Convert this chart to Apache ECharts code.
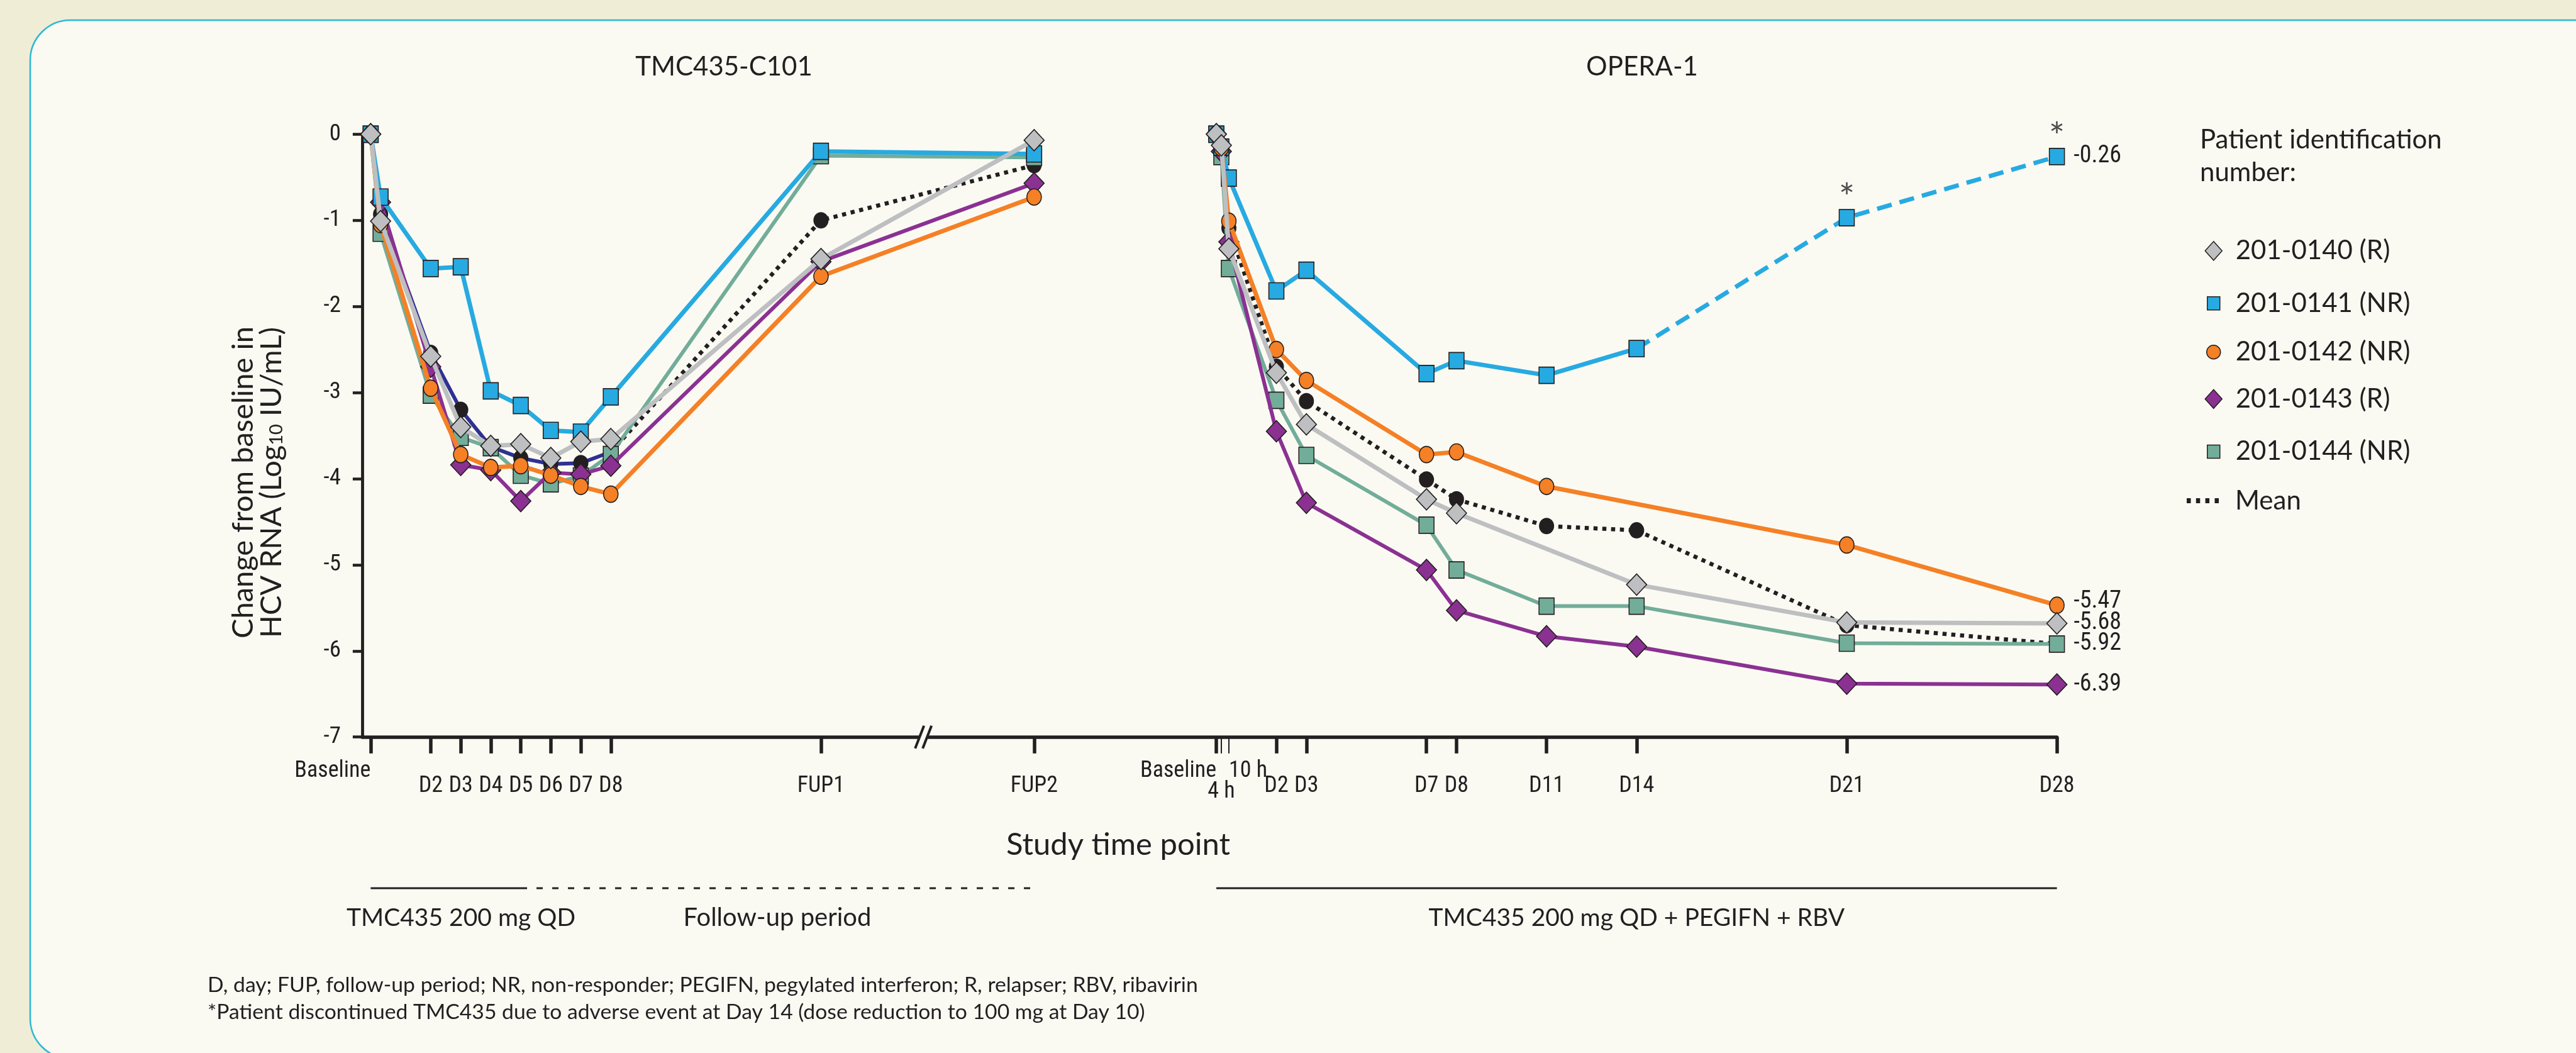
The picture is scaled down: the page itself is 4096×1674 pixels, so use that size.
<!DOCTYPE html>
<html>
<head>
<meta charset="utf-8">
<script src="https://cdn.jsdelivr.net/npm/echarts@6/dist/echarts.min.js"></script>
<style>
html,body{margin:0;padding:0;background:#f0edd6;}
#c{width:4096px;height:1674px;}
</style>
</head>
<body>
<div id="c"></div>
<script>
// ---------------- DATA ----------------
// TMC435-C101 (days; FUP1/FUP2 are plotted at nominal positions on the broken axis)
const c101Days = [0, 0.33, 2, 3, 4, 5, 6, 7, 8, 15, 22.1];
const c101TickDays = [0, 2, 3, 4, 5, 6, 7, 8, 15, 22.1];
const c101TickLabels = ['Baseline', 'D2', 'D3', 'D4', 'D5', 'D6', 'D7', 'D8', 'FUP1', 'FUP2'];
const c101_0140 = [0, -1.01, -2.58, -3.40, -3.62, -3.60, -3.76, -3.57, -3.54, -1.45, -0.07];
const c101_0141 = [0, -0.73, -1.56, -1.54, -2.98, -3.15, -3.44, -3.46, -3.05, -0.20, -0.23];
const c101_0142 = [0, -1.05, -2.95, -3.72, -3.87, -3.85, -3.96, -4.09, -4.18, -1.65, -0.73];
const c101_0143 = [0, -0.79, -2.70, -3.84, -3.90, -4.26, -3.93, -3.95, -3.85, -1.48, -0.57];
const c101_0144 = [0, -1.15, -3.03, -3.52, -3.64, -3.96, -4.06, -3.97, -3.72, -0.25, -0.27];
const c101Mean  = [0, -0.93, -2.54, -3.20, -3.63, -3.76, -3.83, -3.82, -3.69, -1.00, -0.36];
const c101DosingEndDay = 5;      // TMC435 200 mg QD until D5, then follow-up
const c101MeanSolidUntil = 8;    // mean drawn solid through D8, dotted afterwards
const c101BreakDay = 18.41;      // axis break between FUP1 and FUP2

// OPERA-1 (days)
const operaOffset = 28.17;       // OPERA-1 baseline position on the shared x axis
const operaDays = [0, 0.167, 0.417, 2, 3, 7, 8, 11, 14, 21, 28];
const operaTickDays = [0, 0.167, 0.417, 2, 3, 7, 8, 11, 14, 21, 28];
const operaTickLabels = ['Baseline', '4 h', '10 h', 'D2', 'D3', 'D7', 'D8', 'D11', 'D14', 'D21', 'D28'];
const opera_0140 = [0, -0.13, -1.33, -2.77, -3.37, -4.24, -4.40, null, -5.23, -5.67, -5.68];
const opera_0141 = [0, -0.15, -0.51, -1.82, -1.58, -2.78, -2.63, -2.80, -2.49, -0.97, -0.26];
const opera_0142 = [0, -0.16, -1.01, -2.50, -2.86, -3.72, -3.69, -4.09, null, -4.77, -5.47];
const opera_0143 = [0, -0.20, -1.25, -3.45, -4.28, -5.06, -5.53, -5.83, -5.95, -6.38, -6.39];
const opera_0144 = [0, -0.26, -1.56, -3.09, -3.73, -4.54, -5.06, -5.48, -5.48, -5.91, -5.92];
const operaMean  = [0, -0.18, -1.09, -2.70, -3.10, -4.01, -4.24, -4.55, -4.60, -5.70, -5.92];
const operaDiscontinuedFrom = 14;  // 201-0141 dashed after D14
const operaStarDays = [21, 28];    // asterisked points of 201-0141
const operaTreatEndDay = 28;

const yTicks = [0, -1, -2, -3, -4, -5, -6, -7];

const footnote1 = 'D, day; FUP, follow-up period; NR, non-responder; PEGIFN, pegylated interferon; R, relapser; RBV, ribavirin';
const footnote2 = '*Patient discontinued TMC435 due to adverse event at Day 14 (dose reduction to 100 mg at Day 10)';

// ---------------- STYLE ----------------
const INK = '#231f20';
const FONT = 'Lato, "Liberation Sans", sans-serif';
const PANEL = '#fafaf3';
const mctx = document.createElement('canvas').getContext('2d');

// pick the narrowest available condensed face for the tick labels
const NARROW = (function () {
  const cands = [
    {style: 'normal', family: '"Liberation Sans Narrow"'},
    {style: 'normal', family: '"DejaVu Sans Condensed"'},
    {style: 'normal', family: '"Roboto Condensed"'},
    {style: 'normal', family: '"Noto Sans Condensed"'},
    {style: 'condensed', family: '"Noto Sans"'},
    {style: 'condensed', family: '"DejaVu Sans"'},
    {style: 'condensed', family: 'Roboto'},
    {style: 'condensed', family: '"Liberation Sans"'},
    {style: 'normal', family: 'Lato'},
    {style: 'normal', family: '"Liberation Sans"'}
  ];
  let best = null;
  cands.forEach(c => {
    mctx.font = (c.style === 'normal' ? '' : c.style + ' ') + '36px ' + c.family;
    const w = mctx.measureText('Baseline D2 D3 FUP1 -5.47').width;
    if (!best || w < best.w - 0.5) best = {style: c.style, family: c.family, w: w};
  });
  return best;
})();
const NF = NARROW.family + ', "Liberation Sans", sans-serif';
const NS = NARROW.style;

// font size that makes a text span a given width (footnotes)
function fitSize(texts, targetW) {
  mctx.font = '36px ' + FONT;
  const w = texts.reduce((a, t) => a + mctx.measureText(t).width, 0) / texts.length;
  return Math.max(30, Math.min(40, 36 * targetW / w));
}
const FOOT_FS = fitSize([footnote1, footnote2], 1533);

const patients = [
  {name: '201-0140 (R)',  c101: c101_0140, opera: opera_0140, color: '#bdbfc1', symbol: 'diamond', size: [32, 34], lsize: [27, 30], width: 7, z: 7, labDist: 10},
  {name: '201-0141 (NR)', c101: c101_0141, opera: opera_0141, color: '#27aae1', symbol: 'rect',    size: [24, 26], lsize: [20, 21], width: 7, z: 5, labDist: 14},
  {name: '201-0142 (NR)', c101: c101_0142, opera: opera_0142, color: '#f58025', symbol: 'circle',  size: [23, 26], lsize: [22, 24], width: 7, z: 6, labDist: 14.5, labOffset: [0, -6]},
  {name: '201-0143 (R)',  c101: c101_0143, opera: opera_0143, color: '#8b3192', symbol: 'diamond', size: [32, 34], lsize: [27, 30], width: 6, z: 4, labDist: 10},
  {name: '201-0144 (NR)', c101: c101_0144, opera: opera_0144, color: '#72ad99', symbol: 'rect',    size: [24, 26], lsize: [20, 21], width: 6, z: 3, labDist: 14}
];

function pairs(days, vals, offset, from, to) {
  const out = [];
  days.forEach((d, i) => {
    const v = vals[i];
    if (v === null || v === undefined) return;
    if (from !== undefined && d < from) return;
    if (to !== undefined && d > to) return;
    out.push([offset + d, v]);
  });
  return out;
}

function withEndLabel(data, p) {
  const last = data.length - 1;
  return data.map((v, i) => i === last ? {
    value: v,
    label: {show: true, position: 'right', distance: p.labDist, offset: p.labOffset || [0, 0],
      formatter: (q) => q.value[1].toFixed(2), fontFamily: NF, fontStyle: NS, fontSize: 38, color: INK}
  } : v);
}

function mkLine(name, data, o) {
  return Object.assign({
    type: 'line', name: name, data: data, clip: false, animation: false,
    showAllSymbol: true, emphasis: {disabled: true},
    label: {show: false}
  }, o);
}

const series = [];
patients.forEach(p => {
  const base = {
    symbol: p.symbol, symbolSize: p.size, z: p.z,
    itemStyle: {color: p.color, borderColor: INK, borderWidth: 1.6},
    lineStyle: {color: p.color, width: p.width}
  };
  series.push(mkLine(p.name, pairs(c101Days, p.c101, 0), base));
  if (p.name === '201-0141 (NR)') {
    series.push(mkLine(p.name, pairs(operaDays, p.opera, operaOffset, undefined, operaDiscontinuedFrom), base));
    series.push(mkLine(p.name, withEndLabel(pairs(operaDays, p.opera, operaOffset, operaDiscontinuedFrom), p),
      Object.assign({}, base, {lineStyle: {color: p.color, width: p.width, type: [24, 13]}})));
  } else {
    series.push(mkLine(p.name, withEndLabel(pairs(operaDays, p.opera, operaOffset), p), base));
  }
});

// Mean
const meanSym = {symbol: 'circle', symbolSize: [24, 26], z: 2, itemStyle: {color: INK, borderWidth: 0}};
const dotted = {color: INK, width: 6.5, type: [6.5, 7.5], cap: 'butt'};
series.push(mkLine('Mean', pairs(c101Days, c101Mean, 0, c101MeanSolidUntil), Object.assign({}, meanSym, {lineStyle: dotted})));
series.push(mkLine('Mean', pairs(operaDays, operaMean, operaOffset), Object.assign({}, meanSym, {lineStyle: dotted})));
series.push(mkLine('Mean', pairs(c101Days, c101Mean, 0, undefined, c101MeanSolidUntil),
  Object.assign({}, meanSym, {lineStyle: {color: '#2e3192', width: 6}})));

// Asterisks for discontinued patient
const starPts = operaStarDays.map(d => [operaOffset + d, opera_0141[operaDays.indexOf(d)]]);
series.push({
  type: 'scatter', name: 'star', data: starPts, symbol: 'rect', symbolSize: [23, 25], z: 8,
  itemStyle: {color: 'rgba(0,0,0,0)'}, silent: true, animation: false, clip: false,
  label: {show: true, position: 'inside', offset: [0, -30], formatter: '*', fontFamily: FONT, fontSize: 60, color: INK}
});

// ---------------- AXES ----------------
const X_MIN = -0.2825, X_MAX = operaOffset + 28;
const ticks = [];
c101TickDays.forEach((d, i) => ticks.push({x: d, label: c101TickLabels[i]}));
operaTickDays.forEach((d, i) => ticks.push({x: operaOffset + d, label: operaTickLabels[i]}));
const key = v => Math.round(v * 1000);
const labelMap = {};
ticks.forEach(t => { labelMap[key(t.x)] = t.label; });
const fmt = v => labelMap[key(v)] || '';
const isHour = l => /h$/.test(l);
const thick = ticks.filter(t => !isHour(t.label)).map(t => t.x);
const thin = ticks.filter(t => isHour(t.label)).map(t => t.x);
const dRow = ticks.filter(t => t.label !== 'Baseline' && !isHour(t.label)).map(t => t.x);
const baseRow = ticks.filter(t => t.label === 'Baseline').map(t => t.x);
const tenRow = ticks.filter(t => t.label === '10 h').map(t => t.x);
const fourRow = ticks.filter(t => t.label === '4 h').map(t => t.x);

const lab = {fontFamily: NF, fontStyle: NS, fontSize: 36, color: INK, formatter: fmt};
function xa(o) {
  return Object.assign({
    type: 'value', min: X_MIN, max: X_MAX, position: 'bottom', splitLine: {show: false},
    axisLine: {show: false, onZero: false}, axisTick: {show: false}, axisLabel: {show: false}
  }, o);
}
const xAxes = [
  xa({axisLine: {show: true, onZero: false, lineStyle: {color: INK, width: 5.5}},
      axisTick: {show: true, customValues: thick, length: 26, lineStyle: {color: INK, width: 5.5}},
      axisLabel: Object.assign({show: true, customValues: dRow, margin: 60}, lab)}),
  xa({axisTick: {show: true, customValues: thin, length: 26, lineStyle: {color: INK, width: 2}}}),
  xa({axisLabel: Object.assign({show: true, customValues: baseRow, margin: 36, align: 'right'}, lab)}),
  xa({axisLabel: Object.assign({show: true, customValues: tenRow, margin: 36, align: 'left'}, lab)}),
  xa({axisLabel: Object.assign({show: true, customValues: fourRow, margin: 69, align: 'center'}, lab)})
];
series.forEach(s => { s.xAxisIndex = 0; s.yAxisIndex = 0; });

// ---------------- LEGEND ----------------
const legendRows = [387.8, 466.8, 545.8, 623.3, 702.4];
const legendSymX = 3514, legendTextX = 3549, LFS = 42;
const legends = patients.map((p, i) => {
  const left = legendSymX - p.lsize[0] / 2;
  return {
    left: left, top: legendRows[i] - p.lsize[1] / 2, orient: 'vertical',
    itemWidth: p.lsize[0], itemHeight: p.lsize[1], selectedMode: false,
    data: [{name: p.name, icon: p.symbol, itemStyle: {color: p.color, borderColor: INK, borderWidth: 1.5}}],
    textStyle: {fontFamily: FONT, fontSize: LFS, color: INK, padding: [0, 0, 0, legendTextX - (left + p.lsize[0] + 5)]}
  };
});
legends.push({
  left: 3472, top: 774 - 4, itemWidth: 51, itemHeight: 8, selectedMode: false,
  data: [{name: 'Mean', icon: 'path://M0,0h6.5v8h-6.5z M14.8,0h6.5v8h-6.5z M29.6,0h6.5v8h-6.5z M44.5,0h6.5v8h-6.5z',
          itemStyle: {color: INK, borderWidth: 0}}],
  textStyle: {fontFamily: FONT, fontSize: LFS, color: INK, padding: [0, 0, 0, legendTextX - (3472 + 51 + 5)]}
});

const chart = echarts.init(document.getElementById('c'), null, {width: 4096, height: 1674});
chart.setOption({
  backgroundColor: '#f0edd6',
  animation: false,
  grid: {left: 575.9, top: 213.3, width: 2694.7, height: 958.4, outerBoundsMode: 'none'},
  xAxis: xAxes,
  yAxis: {
    type: 'value', min: -7, max: 0, interval: 1,
    axisLine: {show: true, onZero: false, lineStyle: {color: INK, width: 4.8}},
    axisTick: {show: true, length: 15, lineStyle: {color: INK, width: 4.5}},
    axisLabel: {margin: 34, fontFamily: NF, fontStyle: NS, fontSize: 37, color: INK,
      formatter: v => yTicks.indexOf(v) >= 0 ? String(v) : ''},
    splitLine: {show: false}
  },
  legend: legends,
  tooltip: {show: false},
  series: series
});

// ---------------- ANNOTATIONS ----------------
const px = (x, y) => chart.convertToPixel({xAxisIndex: 0, yAxisIndex: 0}, [x, y]);
const yAx = px(0, -7)[1];
const g = [];
g.push({type: 'rect', z: -100, silent: true, shape: {x: 48, y: 32, width: 4300, height: 1651, r: 64},
  style: {fill: PANEL, stroke: '#2bb9d5', lineWidth: 2.5}});
function txt(x, y, text, o) {
  return Object.assign({type: 'text', x: x, y: y, silent: true, z: 60,
    style: Object.assign({text: text, fontFamily: FONT, fontSize: 42, fill: INK, align: 'center', verticalAlign: 'middle'}, (o && o.style) || {})},
    o && o.rotation !== undefined ? {rotation: o.rotation} : {});
}
g.push(txt(1151, 106, 'TMC435-C101'));
g.push(txt(2611, 106, 'OPERA-1'));
g.push(txt(1778, 1343, 'Study time point', {style: {fontSize: 49}}));
g.push(txt(409, 767, '{n|Change from baseline in}\n{n|HCV RNA (Log}{s|10}{n| IU/mL)}', {rotation: Math.PI / 2,
  style: {rich: {n: {fontFamily: FONT, fontSize: 47, lineHeight: 45, fill: INK}, s: {fontFamily: FONT, fontSize: 29, lineHeight: 29, padding: [16, 0, 0, 0], fill: INK}}}}));
// legend title
g.push(txt(3498, 222, 'Patient identification', {style: {align: 'left', fontSize: LFS}}));
g.push(txt(3498, 274, 'number:', {style: {align: 'left', fontSize: LFS}}));
// treatment period bars
const bandY = 1412;
const c0 = px(0, -7)[0], c5 = px(c101DosingEndDay, -7)[0], cF = px(c101TickDays[c101TickDays.length - 1], -7)[0];
const o0 = px(operaOffset, -7)[0], o28 = px(operaOffset + operaTreatEndDay, -7)[0];
g.push({type: 'line', z: 60, silent: true, shape: {x1: c0, y1: bandY, x2: c5, y2: bandY}, style: {stroke: INK, lineWidth: 3}});
g.push({type: 'line', z: 60, silent: true, shape: {x1: c5, y1: bandY, x2: cF, y2: bandY}, style: {stroke: INK, lineWidth: 3, lineDash: [10, 15]}});
g.push({type: 'line', z: 60, silent: true, shape: {x1: o0, y1: bandY, x2: o28, y2: bandY}, style: {stroke: INK, lineWidth: 2.8}});
g.push(txt(733, 1459, 'TMC435 200 mg QD', {style: {fontSize: 39}}));
g.push(txt(1236, 1459, 'Follow-up period', {style: {fontSize: 40}}));
g.push(txt((o0 + o28) / 2, 1459, 'TMC435 200 mg QD + PEGIFN + RBV', {style: {fontSize: 39}}));
// footnotes
g.push(txt(330, 1566, footnote1, {style: {align: 'left', fontSize: FOOT_FS}}));
g.push(txt(330, 1609, footnote2, {style: {align: 'left', fontSize: FOOT_FS}}));
// axis break mark
const bx = px(c101BreakDay, -7)[0];
g.push({type: 'rect', z: 70, silent: true, shape: {x: bx - 7, y: yAx - 5, width: 14, height: 10}, style: {fill: PANEL}});
[-6, 6].forEach(dx => {
  g.push({type: 'line', z: 71, silent: true, shape: {x1: bx + dx - 7, y1: yAx + 18, x2: bx + dx + 7, y2: yAx - 18}, style: {stroke: INK, lineWidth: 4}});
});
chart.setOption({graphic: {elements: g}});
</script>
</body>
</html>
